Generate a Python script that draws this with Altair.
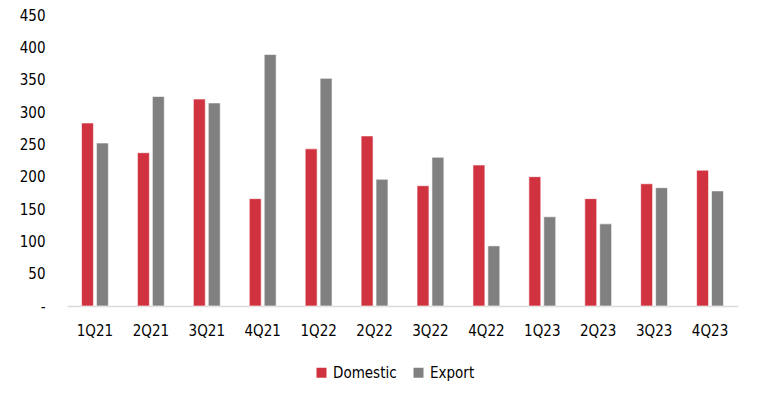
import altair as alt
import pandas as pd

quarters = ["1Q21", "2Q21", "3Q21", "4Q21", "1Q22", "2Q22",
            "3Q22", "4Q22", "1Q23", "2Q23", "3Q23", "4Q23"]
domestic = [283, 237, 320, 166, 243, 263, 186, 218, 200, 166, 189, 210]
export = [252, 324, 314, 389, 352, 196, 230, 93, 138, 127, 183, 178]
series = ["Domestic", "Export"]
colors = ["#D0323F", "#808080"]
y_ticks = [0, 50, 100, 150, 200, 250, 300, 350, 400, 450]

rows = []
for q, d, e in zip(quarters, domestic, export):
    rows.append({"quarter": q, "series": "Domestic", "value": d})
    rows.append({"quarter": q, "series": "Export", "value": e})
df = pd.DataFrame(rows)

FONT = "DejaVu Sans Condensed, Liberation Sans Narrow, Liberation Sans, sans-serif"

chart = alt.Chart(df).mark_bar(stroke="white", strokeWidth=0.6).encode(
    x=alt.X("quarter:N", sort=quarters, title=None,
            scale=alt.Scale(paddingInner=0.52, paddingOuter=0.26),
            axis=alt.Axis(labelAngle=0, ticks=False, domainColor="#d9d9d9",
                          domainWidth=1.5, labelFontSize=15, labelFont=FONT,
                          labelColor="#000000", labelPadding=17)),
    xOffset=alt.XOffset("series:N", sort=series,
                        scale=alt.Scale(paddingInner=0.2, paddingOuter=0)),
    y=alt.Y("value:Q", title=None,
            scale=alt.Scale(domain=[0, 450], nice=False),
            axis=alt.Axis(values=y_ticks, grid=False, domain=False, ticks=False,
                          labelFontSize=15, labelFont=FONT, labelColor="#000000",
                          labelPadding=22,
                          labelExpr="datum.value == 0 ? '-' : datum.label")),
    color=alt.Color("series:N", sort=series,
                    scale=alt.Scale(domain=series, range=colors),
                    legend=alt.Legend(title=None, orient="none", direction="horizontal",
                                      legendX=247, legendY=350,
                                      symbolType="square", symbolSize=100,
                                      symbolStrokeWidth=0,
                                      labelFontSize=15, labelFont=FONT,
                                      labelColor="#000000", labelOffset=4,
                                      columnPadding=14)),
).properties(
    width=671, height=291,
    autosize=alt.AutoSizeParams(type="none"),
    padding={"left": 59, "top": 7, "right": 19, "bottom": 79},
).configure_view(stroke=None)

chart.save("out.html", embed_options={"renderer": "svg", "actions": False})
